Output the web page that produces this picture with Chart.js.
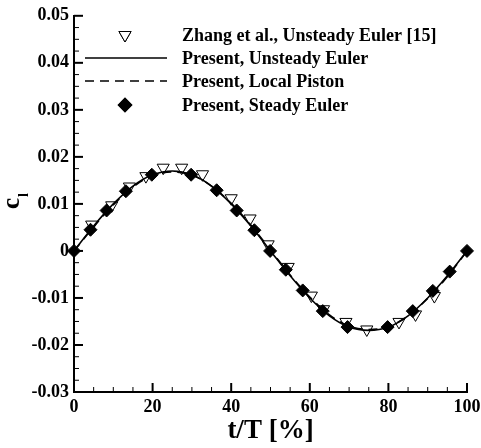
<!DOCTYPE html>
<html>
<head>
<meta charset="utf-8">
<script src="https://cdn.jsdelivr.net/npm/chart.js@4.4.0/dist/chart.umd.min.js"></script>
<style>
  html, body { margin: 0; padding: 0; background: #fff; }
</style>
</head>
<body>
<canvas id="cl-chart" width="481" height="448"></canvas>
<script>
// t/T [%] and lift coefficient
const curveT = [0, 5, 10, 15, 20, 25, 30, 35, 40, 45, 50, 55, 60, 65, 70, 75, 80, 85, 90, 95, 100];
const unsteadyEuler = [0, 0.0053, 0.0100, 0.0138, 0.0162, 0.0170, 0.0162, 0.0138, 0.0100, 0.0053, 0.0000,
    -0.0053, -0.0100, -0.0138, -0.0162, -0.0169, -0.0162, -0.0138, -0.0100, -0.0053, 0];
const localPiston = [0, 0.0051, 0.0098, 0.0136, 0.0160, 0.0168, 0.0161, 0.0138, 0.0101, 0.0055, 0.0002,
    -0.0051, -0.0098, -0.0136, -0.0160, -0.0167, -0.0161, -0.0138, -0.0101, -0.0055, 0];

const steadyT = [0, 4.2, 8.3, 13.2, 19.8, 29.8, 36.3, 41.4, 45.9, 49.9, 53.9, 58.2, 63.3, 69.6, 79.8, 86.2, 91.3, 95.6, 100];
const steadyEuler = [0, 0.0045, 0.0086, 0.0127, 0.0162, 0.0162, 0.0129, 0.0086, 0.0044, 0.0000, -0.0040,
    -0.0084, -0.0128, -0.0162, -0.0162, -0.0128, -0.0085, -0.0044, 0];

const zhangT = [4.5, 9.6, 14.1, 18.3, 22.7, 27.4, 32.7, 40.0, 44.8, 49.4, 54.5, 60.4, 63.5, 69.2, 74.5, 82.7, 86.9, 91.7];
const zhangCl = [0.0056, 0.0097, 0.0137, 0.0159, 0.0177, 0.0177, 0.0163, 0.0112, 0.0069, 0.0014, -0.0034,
    -0.0095, -0.0124, -0.0151, -0.0167, -0.0151, -0.0135, -0.0096];

const xMajor = [0, 20, 40, 60, 80, 100];
const yMajor = [-0.03, -0.02, -0.01, 0, 0.01, 0.02, 0.03, 0.04, 0.05];
const yLabels = ['-0.03', '-0.02', '-0.01', '0', '0.01', '0.02', '0.03', '0.04', '0.05'];

const serif = '"Liberation Serif", "Times New Roman", serif';

function toPoints(xs, ys) {
    return xs.map((x, i) => ({ x: x, y: ys[i] }));
}

function findMajor(list, v, tol) {
    return list.findIndex(m => Math.abs(m - v) < tol);
}

// Tick marks drawn inside the plot area, major and minor
const innerTicks = {
    id: 'innerTicks',
    afterDraw(chart) {
        const { ctx, chartArea } = chart;
        const x = chart.scales.x;
        const y = chart.scales.y;
        ctx.save();
        ctx.strokeStyle = '#000';
        x.ticks.forEach(t => {
            const major = findMajor(xMajor, t.value, 1e-6) >= 0;
            const px = x.getPixelForValue(t.value);
            ctx.lineWidth = major ? 2 : 1;
            ctx.beginPath();
            ctx.moveTo(px, chartArea.bottom);
            ctx.lineTo(px, chartArea.bottom - (major ? 9 : 5));
            ctx.stroke();
        });
        y.ticks.forEach(t => {
            const major = findMajor(yMajor, t.value, 1e-7) >= 0;
            const py = y.getPixelForValue(t.value);
            ctx.lineWidth = major ? 2 : 1;
            ctx.beginPath();
            ctx.moveTo(chartArea.left, py);
            ctx.lineTo(chartArea.left + (major ? 9 : 5), py);
            ctx.stroke();
        });
        ctx.restore();
    }
};

// Rotated "c" with subscript "l"
const yTitle = {
    id: 'yTitle',
    afterDraw(chart) {
        const ctx = chart.ctx;
        ctx.save();
        ctx.translate(19, 209);
        ctx.rotate(-Math.PI / 2);
        ctx.fillStyle = '#000';
        ctx.textBaseline = 'alphabetic';
        ctx.font = 'bold 25px ' + serif;
        ctx.fillText('c', 0, 0);
        const w = ctx.measureText('c').width;
        ctx.font = 'bold 14px ' + serif;
        ctx.fillText('l', w + 1, 9);
        ctx.restore();
    }
};

// Legend in the top of the plot
const plotLegend = {
    id: 'plotLegend',
    afterDraw(chart) {
        const ctx = chart.ctx;
        const sets = chart.data.datasets;
        const rows = [
            { ds: sets[3], y: 35 },
            { ds: sets[1], y: 58 },
            { ds: sets[2], y: 81 },
            { ds: sets[0], y: 105 }
        ];
        ctx.save();
        ctx.fillStyle = '#000';
        ctx.strokeStyle = '#000';
        rows.forEach(row => {
            const ds = row.ds;
            const y = row.y;
            if (ds.showLine) {
                ctx.lineWidth = ds.borderWidth;
                ctx.setLineDash(ds.borderDash || []);
                ctx.beginPath();
                ctx.moveTo(85, y);
                ctx.lineTo(167, y);
                ctx.stroke();
                ctx.setLineDash([]);
            } else {
                Chart.helpers.drawPoint(ctx, {
                    pointStyle: ds.pointStyle,
                    radius: ds.pointRadius,
                    rotation: ds.pointRotation || 0,
                    borderWidth: ds.borderWidth
                }, 125, y);
                ctx.fillStyle = ds.backgroundColor;
                ctx.strokeStyle = ds.borderColor;
                ctx.lineWidth = ds.borderWidth;
                ctx.fill();
                ctx.stroke();
                ctx.fillStyle = '#000';
            }
            ctx.font = 'bold 18px ' + serif;
            ctx.textBaseline = 'alphabetic';
            ctx.fillText(ds.label, 182, y + 6);
        });
        ctx.restore();
    }
};

const ctx = document.getElementById('cl-chart').getContext('2d');
const clChart = new Chart(ctx, {
    type: 'scatter',
    data: {
        datasets: [
            {
                label: 'Present, Steady Euler',
                data: toPoints(steadyT, steadyEuler),
                pointStyle: 'rectRot',
                pointRadius: 6.5,
                backgroundColor: '#000',
                borderColor: '#000',
                borderWidth: 1,
                showLine: false,
                clip: false,
                order: 0
            },
            {
                label: 'Present, Unsteady Euler',
                data: toPoints(curveT, unsteadyEuler),
                showLine: true,
                borderColor: '#000',
                borderWidth: 1.6,
                pointRadius: 0,
                cubicInterpolationMode: 'monotone',
                fill: false,
                clip: false,
                order: 1
            },
            {
                label: 'Present, Local Piston',
                data: toPoints(curveT, localPiston),
                showLine: true,
                borderColor: '#000',
                borderWidth: 1.6,
                borderDash: [9, 6],
                pointRadius: 0,
                cubicInterpolationMode: 'monotone',
                fill: false,
                clip: false,
                order: 2
            },
            {
                label: 'Zhang et al., Unsteady Euler [15]',
                data: toPoints(zhangT, zhangCl),
                pointStyle: 'triangle',
                pointRotation: 180,
                pointRadius: 7,
                backgroundColor: '#fff',
                borderColor: '#000',
                borderWidth: 1,
                showLine: false,
                clip: false,
                order: 3
            }
        ]
    },
    options: {
        responsive: false,
        animation: false,
        devicePixelRatio: 1,
        layout: {
            padding: { left: 0, top: 15, right: 14, bottom: 0 }
        },
        plugins: {
            legend: { display: false },
            tooltip: { enabled: false }
        },
        scales: {
            x: {
                type: 'linear',
                min: 0,
                max: 100,
                grid: { display: false, drawTicks: false },
                border: { display: true, color: '#000', width: 2 },
                ticks: {
                    stepSize: 5,
                    autoSkip: false,
                    maxRotation: 0,
                    padding: 5,
                    color: '#000',
                    font: { family: serif, size: 18, weight: 'bold' },
                    callback: v => (findMajor(xMajor, v, 1e-6) >= 0 ? String(v) : '')
                },
                title: {
                    display: true,
                    text: 't/T [%]',
                    color: '#000',
                    font: { family: serif, size: 27, weight: 'bold' },
                    padding: { top: 0, bottom: 1 }
                },
                afterFit: scale => {
                    scale.height = 56;
                    scale.paddingRight = 0;
                }
            },
            y: {
                type: 'linear',
                min: -0.03,
                max: 0.05,
                grid: { display: false, drawTicks: false },
                border: { display: true, color: '#000', width: 2 },
                ticks: {
                    stepSize: 0.0025,
                    autoSkip: false,
                    padding: 5,
                    color: '#000',
                    font: { family: serif, size: 18, weight: 'bold' },
                    callback: v => {
                        const i = findMajor(yMajor, v, 1e-7);
                        return i >= 0 ? yLabels[i] : '';
                    }
                },
                afterFit: scale => { scale.width = 74; }
            }
        }
    },
    plugins: [innerTicks, yTitle, plotLegend]
});
</script>
</body>
</html>
